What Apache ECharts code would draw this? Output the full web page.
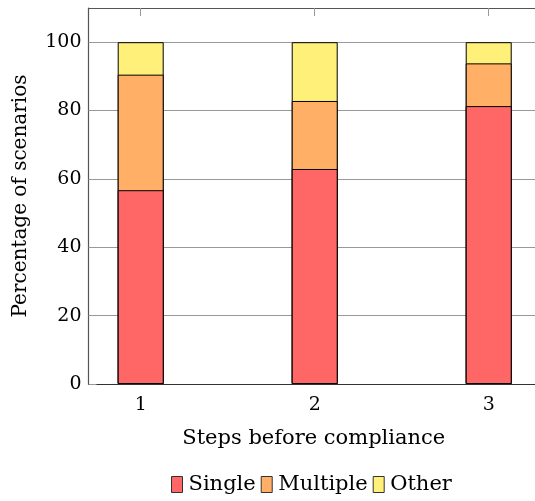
<!DOCTYPE html>
<html>
<head>
<meta charset="utf-8">
<script src="https://cdn.jsdelivr.net/npm/echarts@6/dist/echarts.min.js"></script>
<style>html,body{margin:0;padding:0;background:#fff}#c{width:535px;height:501px}</style>
</head>
<body>
<div id="c"></div>
<script>
const steps = [1, 2, 3];
const single = [56.7, 62.9, 81.3];
const multiple = [33.8, 19.9, 12.5];
const other = [9.5, 17.2, 6.2];
const yTicks = [0, 20, 40, 60, 80, 100];
const seriesNames = ['Single', 'Multiple', 'Other'];
const colors = ['#FF6666', '#FFB066', '#FFF07A'];

const font = 'DejaVu Serif';
const chart = echarts.init(document.getElementById('c'), null, {renderer: 'canvas'});

// stacked tops (cumulative), drawn as overlapping bars from the baseline, tallest first
const parts = [single, multiple, other];
const cumul = parts.map((p, k) => steps.map((s, i) => parts.slice(0, k + 1).reduce((a, q) => a + q[i], 0)));

const mk = (k) => ({
  name: seriesNames[k], type: 'bar', barWidth: 46, barGap: '-100%', z: 10 - k,
  data: steps.map((s, i) => [s, cumul[k][i]]),
  itemStyle: {color: colors[k], borderColor: '#000', borderWidth: 1},
  emphasis: {disabled: true}
});
chart.setOption({
  animation: false,
  grid: {left: 88.5, top: 8, right: 0, bottom: 117, show: false},
  legend: {
    data: seriesNames, left: 166, top: 469, icon: 'rect', itemWidth: 11, itemHeight: 16, itemGap: 5,
    textStyle: {fontFamily: font, fontSize: 21, color: '#000', padding: [6, 0, 0, 1]},
    itemStyle: {borderColor: '#333', borderWidth: 1}
  },
  xAxis: [{
    type: 'value', min: 0.7, max: 3.266, position: 'bottom',
    name: 'Steps before compliance', nameLocation: 'middle', nameGap: 44,
    nameTextStyle: {fontFamily: font, fontSize: 21, color: '#000', padding: [0, 0, 0, 4]},
    axisLine: {show: true, lineStyle: {color: '#333', width: 1.2}},
    axisTick: {show: true, inside: true, length: 8, customValues: steps, lineStyle: {color: '#999'}},
    axisLabel: {customValues: steps, fontFamily: font, fontSize: 19, color: '#000', margin: 12},
    splitLine: {show: false}
  }, {
    type: 'value', min: 0.7, max: 3.266, position: 'top',
    axisLine: {show: true, lineStyle: {color: '#555', width: 1.2}},
    axisTick: {show: true, inside: true, length: 8, customValues: steps, lineStyle: {color: '#999'}},
    axisLabel: {show: false},
    splitLine: {show: false}
  }],
  yAxis: {
    type: 'value', min: 0, max: 110,
    name: 'Percentage of scenarios', nameLocation: 'middle', nameGap: 58,
    nameTextStyle: {fontFamily: font, fontSize: 20, color: '#000'},
    axisLine: {show: true, lineStyle: {color: '#555', width: 1.2}},
    axisTick: {show: true, inside: true, length: 8, customValues: yTicks, lineStyle: {color: '#999'}},
    axisLabel: {customValues: yTicks, fontFamily: font, fontSize: 19, color: '#000', margin: 7},
    splitLine: {show: true, customValues: yTicks, lineStyle: {color: '#999', width: 1}}
  },
  series: [mk(2), mk(1), mk(0)]
});
</script>
</body>
</html>
